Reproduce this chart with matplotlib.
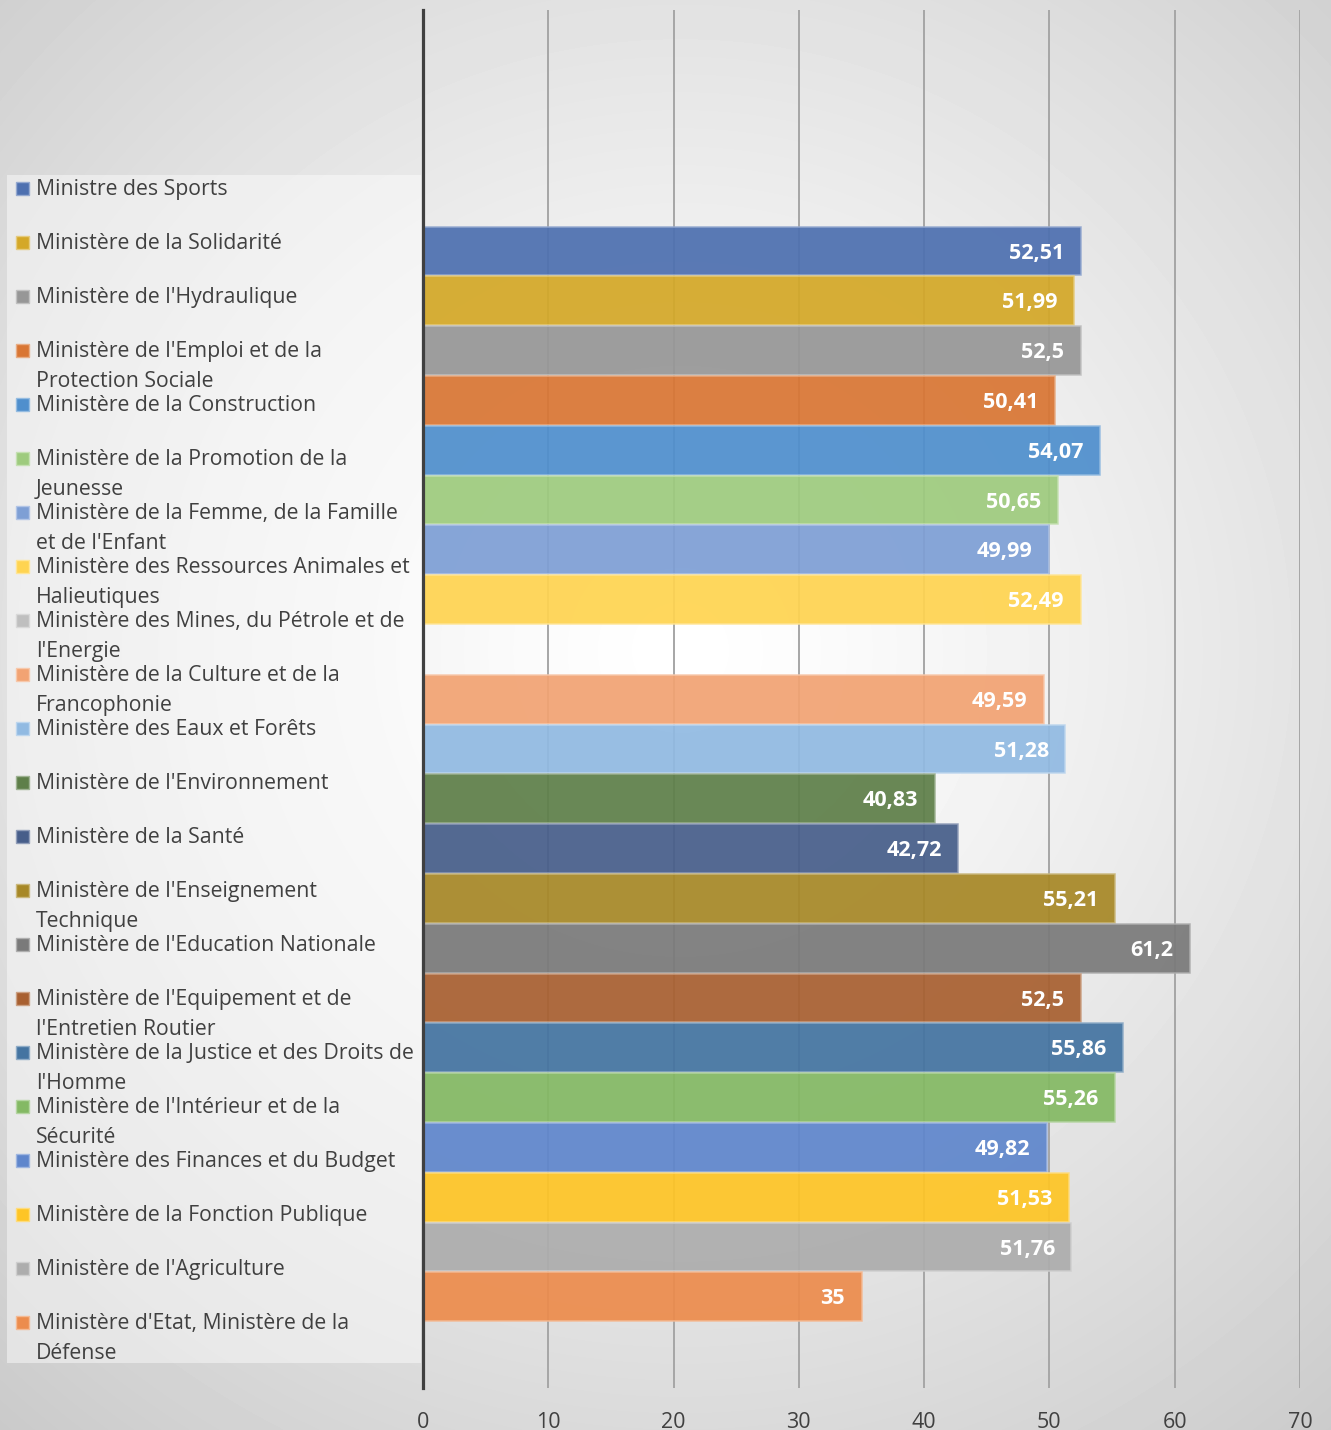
import numpy as np
import matplotlib.pyplot as plt
from matplotlib.patches import Rectangle
from matplotlib.colors import to_rgb

plt.rcParams['font.family'] = ['Open Sans', 'DejaVu Sans']

# Data (top to bottom), None = no bar
ministeres = [
    ["Ministre des Sports"],
    ["Ministère de la Solidarité"],
    ["Ministère de l'Hydraulique"],
    ["Ministère de l'Emploi et de la", "Protection Sociale"],
    ["Ministère de la Construction"],
    ["Ministère de la Promotion de la", "Jeunesse"],
    ["Ministère de la Femme, de la Famille", "et de l'Enfant"],
    ["Ministère des Ressources Animales et", "Halieutiques"],
    ["Ministère des Mines, du Pétrole et de", "l'Energie"],
    ["Ministère de la Culture et de la", "Francophonie"],
    ["Ministère des Eaux et Forêts"],
    ["Ministère de l'Environnement"],
    ["Ministère de la Santé"],
    ["Ministère de l'Enseignement", "Technique"],
    ["Ministère de l'Education Nationale"],
    ["Ministère de l'Equipement et de", "l'Entretien Routier"],
    ["Ministère de la Justice et des Droits de", "l'Homme"],
    ["Ministère de l'Intérieur et de la", "Sécurité"],
    ["Ministère des Finances et du Budget"],
    ["Ministère de la Fonction Publique"],
    ["Ministère de l'Agriculture"],
    ["Ministère d'Etat, Ministère de la", "Défense"],
]
valeurs = [52.51, 51.99, 52.5, 50.41, 54.07, 50.65, 49.99, 52.49, None,
           49.59, 51.28, 40.83, 42.72, 55.21, 61.2, 52.5, 55.86, 55.26,
           49.82, 51.53, 51.76, 35]
couleurs = ['#4E70B0', '#D4A828', '#979797', '#D97634', '#4F8FCD', '#9ECB7E',
            '#7E9FD5', '#FFD451', '#BFBFBF', '#F2A373', '#91BAE2', '#5E7F49',
            '#475E8A', '#A78827', '#7A7A7A', '#A86031', '#4474A1', '#84B964',
            '#5F86CC', '#FEC526', '#ADADAD', '#EC8C4D']
ticks = [0, 10, 20, 30, 40, 50, 60, 70]

W, H = 1331, 1430
fig = plt.figure(figsize=(W / 100, H / 100), dpi=100)

# background axes in pixel coordinates (gradient + legend)
bg = fig.add_axes([0, 0, 1, 1])
bg.set_xlim(0, W)
bg.set_ylim(H, 0)
bg.axis('off')
xx, yy = np.meshgrid(np.arange(W), np.arange(H))
r = np.hypot(xx - 680, yy - 650) / 1000
v = np.clip(1 - 0.2 * r ** 1.3, 0, 1)
bg.imshow(v, cmap='gray', vmin=0, vmax=1, extent=(0, W, H, 0), aspect='auto')

bg.add_patch(Rectangle((7, 175), 414, 1188, facecolor='white', alpha=0.45,
                       edgecolor='none'))


def lighten(c, f=0.4):
    rgb = np.array(to_rgb(c))
    return tuple(rgb + (1 - rgb) * f)


for k, (lines, col) in enumerate(zip(ministeres, couleurs)):
    base = 195 + 54 * k
    bg.add_patch(Rectangle((16, base - 13), 13, 13, facecolor=col,
                           edgecolor=lighten(col), linewidth=1))
    for j, line in enumerate(lines):
        bg.text(36, base + 30 * j, line, fontsize=15.3, color='#404040',
                ha='left', va='baseline')

# main chart
top, bottom = 10, 1388
ax = fig.add_axes([423 / W, 1 - bottom / H, (1300 - 423) / W, (bottom - top) / H])
ax.patch.set_alpha(0)
pitch = 49.8
y0 = 251
ax.set_ylim((bottom - y0) / pitch, (top - y0) / pitch)
ax.set_xlim(0, 70)

for i, (val, col) in enumerate(zip(valeurs, couleurs)):
    if val is None:
        continue
    ax.barh(i, val, height=0.98, color=col, alpha=0.93,
            edgecolor=lighten(col), linewidth=1.1, zorder=2)
    ax.annotate(f"{val:g}".replace('.', ','), xy=(val, i), xytext=(-12, -1.5),
                textcoords='offset points', ha='right', va='center',
                color='white', fontsize=15.5, fontweight='bold', zorder=3)

ax.set_xticks(ticks)
ax.set_yticks([])
ax.grid(axis='x', color='#A6A6A6', linewidth=1.4, zorder=0)
ax.set_axisbelow(True)
ax.tick_params(axis='x', length=0, pad=17, labelsize=15.5, labelcolor='#404040')
for s in ['top', 'right', 'bottom']:
    ax.spines[s].set_visible(False)
ax.spines['left'].set_color('#404040')
ax.spines['left'].set_linewidth(2.3)
ax.spines['left'].set_zorder(4)

fig.savefig('out.png', dpi=100)
